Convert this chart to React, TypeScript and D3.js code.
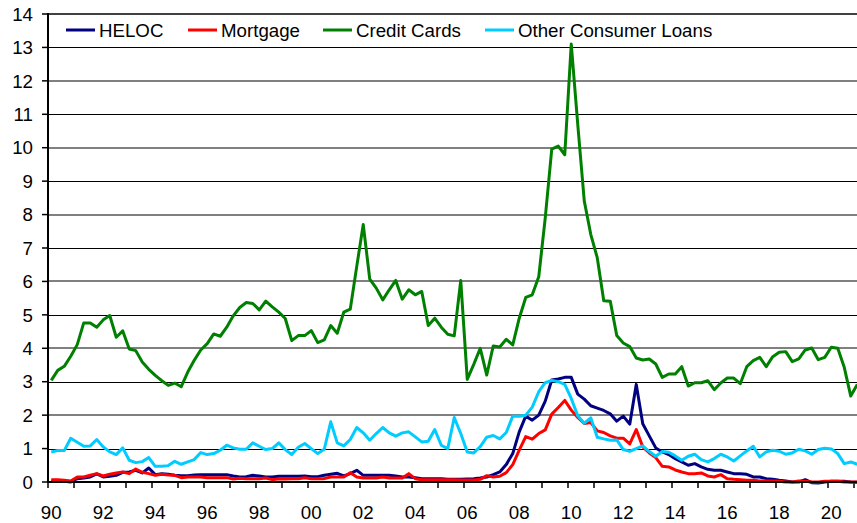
import React from 'react';
import * as d3 from 'd3';

// quarterly, 1990Q1 .. 2021Q1
const heloc = [
  0.02, 0.02, 0.02, 0.0, 0.1, 0.12, 0.15, 0.24, 0.15, 0.17,
  0.2, 0.29, 0.3, 0.35, 0.27, 0.42, 0.22, 0.25, 0.23, 0.2,
  0.19, 0.19, 0.21, 0.22, 0.22, 0.22, 0.22, 0.22, 0.18, 0.15,
  0.16, 0.2, 0.18, 0.15, 0.15, 0.17, 0.17, 0.17, 0.17, 0.18,
  0.16, 0.16, 0.2, 0.23, 0.26, 0.18, 0.25, 0.35, 0.2, 0.2,
  0.2, 0.2, 0.2, 0.18, 0.15, 0.15, 0.13, 0.1, 0.1, 0.1,
  0.1, 0.08, 0.08, 0.08, 0.09, 0.1, 0.12, 0.15, 0.22, 0.3,
  0.52, 0.85, 1.5, 1.97, 1.85, 2.0, 2.42, 3.05, 3.08, 3.13,
  3.13, 2.63, 2.48, 2.28, 2.21, 2.14, 2.04, 1.82, 1.97, 1.73,
  2.92, 1.74, 1.38, 1.02, 0.9, 0.82, 0.7, 0.6, 0.5, 0.55,
  0.45, 0.38, 0.35, 0.35, 0.3, 0.25, 0.25, 0.23, 0.15, 0.15,
  0.1, 0.08, 0.05, 0.03, 0.0, 0.0, 0.07, -0.02, -0.03, 0.0,
  0.02, 0.02, 0.02, 0.0, -0.01,
];

const mortgage = [
  0.07, 0.07, 0.05, 0.03, 0.15, 0.15, 0.2, 0.25, 0.18, 0.23,
  0.27, 0.3, 0.25, 0.39, 0.29, 0.25, 0.2, 0.23, 0.21, 0.2,
  0.13, 0.15, 0.15, 0.15, 0.13, 0.13, 0.13, 0.13, 0.09, 0.11,
  0.1, 0.1, 0.1, 0.12, 0.07, 0.1, 0.09, 0.1, 0.1, 0.13,
  0.1, 0.1, 0.1, 0.15, 0.15, 0.15, 0.28, 0.15, 0.12, 0.12,
  0.12, 0.15, 0.12, 0.12, 0.12, 0.25, 0.1, 0.07, 0.07, 0.07,
  0.07, 0.07, 0.07, 0.06, 0.06, 0.06, 0.08, 0.19, 0.15, 0.17,
  0.28, 0.52, 0.95, 1.36, 1.28, 1.45, 1.56, 2.03, 2.23, 2.44,
  2.15, 1.93, 1.75, 1.78, 1.53, 1.48, 1.38, 1.31, 1.31, 1.14,
  1.57, 1.05, 0.87, 0.73, 0.47, 0.45, 0.36, 0.3, 0.25, 0.25,
  0.27, 0.18, 0.15, 0.22, 0.1, 0.08, 0.07, 0.05, 0.05, 0.03,
  0.03, 0.03, 0.02, 0.0, 0.0, 0.03, 0.02, 0.0, 0.0, 0.02,
  0.02, 0.02, 0.0, 0.0, 0.0,
];

const creditCards = [
  3.04, 3.34, 3.46, 3.76, 4.11, 4.76, 4.76, 4.63, 4.85, 4.98,
  4.33, 4.52, 3.98, 3.93, 3.59, 3.37, 3.19, 3.03, 2.89, 2.96,
  2.85, 3.29, 3.64, 3.95, 4.14, 4.43, 4.36, 4.63, 4.97, 5.22,
  5.37, 5.34, 5.15, 5.41, 5.24, 5.08, 4.89, 4.23, 4.38, 4.38,
  4.53, 4.17, 4.25, 4.68, 4.45, 5.08, 5.17, 6.45, 7.7, 6.07,
  5.8, 5.45, 5.75, 6.03, 5.47, 5.75, 5.6, 5.7, 4.68, 4.9,
  4.63, 4.42, 4.37, 6.03, 3.07, 3.52, 4.0, 3.2, 4.07, 4.04,
  4.27, 4.1, 4.9, 5.52, 5.6, 6.14, 7.9, 9.96, 10.05, 9.79,
  13.1, 10.7, 8.41, 7.41, 6.71, 5.42, 5.41, 4.38, 4.16, 4.05,
  3.71, 3.65, 3.68, 3.53, 3.13, 3.23, 3.23, 3.45, 2.87, 2.97,
  2.97, 3.03, 2.76, 2.96, 3.11, 3.11, 2.94, 3.45, 3.63, 3.73,
  3.45, 3.75, 3.88, 3.9, 3.6, 3.68, 3.95, 4.01, 3.66, 3.73,
  4.03, 4.0, 3.43, 2.57, 2.92,
];

const otherConsumer = [
  0.9, 0.94, 0.94, 1.31, 1.19, 1.07, 1.08, 1.27, 1.05, 0.9,
  0.82, 1.02, 0.65, 0.58, 0.61, 0.73, 0.47, 0.47, 0.49, 0.62,
  0.53, 0.6, 0.67, 0.88, 0.82, 0.85, 0.95, 1.1, 1.02, 0.98,
  0.98, 1.17, 1.07, 0.97, 1.0, 1.17, 0.97, 0.82, 1.04, 1.15,
  1.0, 0.85, 0.98, 1.8, 1.17, 1.08, 1.27, 1.63, 1.47, 1.25,
  1.45, 1.63, 1.47, 1.37, 1.47, 1.5, 1.35, 1.2, 1.22, 1.57,
  1.1, 1.0, 1.93, 1.45, 0.9, 0.87, 1.06, 1.34, 1.39, 1.29,
  1.48, 1.97, 1.97, 2.0, 2.24, 2.7, 2.97, 3.04, 3.0, 2.92,
  2.5, 1.98, 1.76, 1.92, 1.34, 1.29, 1.25, 1.26, 0.97, 0.92,
  1.0, 1.08, 0.91, 0.77, 0.91, 0.89, 0.78, 0.65, 0.77, 0.83,
  0.67, 0.6, 0.7, 0.83, 0.75, 0.63, 0.78, 0.93, 1.07, 0.75,
  0.9, 0.95, 0.92, 0.83, 0.87, 0.98, 0.93, 0.83, 0.97, 1.01,
  0.99, 0.85, 0.55, 0.6, 0.53,
];

const seriesNames = ['HELOC', 'Mortgage', 'Credit Cards', 'Other Consumer Loans'];
const seriesColors = ['#000080', '#ff0000', '#008000', '#00ccff'];
const seriesData = [heloc, mortgage, creditCards, otherConsumer];

const yearLabels = ['90', '92', '94', '96', '98', '00', '02', '04', '06', '08', '10', '12', '14', '16', '18', '20'];
const yTicks = [0, 1, 2, 3, 4, 5, 6, 7, 8, 9, 10, 11, 12, 13, 14];

// legend item x positions (line start)
const legendX = [66, 188, 323, 485];

export default function App() {
  const W = 857, H = 523;
  const n = heloc.length;
  const x = d3.scaleBand<number>().domain(d3.range(n)).range([48, 48 + n * 6.5]).padding(0);
  const bw = x.bandwidth();
  const y = d3.scaleLinear().domain([0, 14]).range([482, 14]);
  const line = d3.line<number>()
    .x((_, i) => (x(i) as number) + bw / 2)
    .y(d => y(d));

  const font = '"Liberation Sans", Arial, sans-serif';
  const fs = 18.7;

  return (
    <svg width={W} height={H} style={{ position: 'absolute', left: 0, top: 0, background: '#fff' }}
      fontFamily={font}>
      {/* gridlines */}
      {yTicks.filter(t => t > 0 && t < 14).map(t => (
        t % 2 === 1
          ? <line key={t} x1={48} x2={W} y1={Math.round(y(t)) + 0.5} y2={Math.round(y(t)) + 0.5} stroke="#000" strokeWidth={1} />
          : <line key={t} x1={48} x2={W} y1={Math.round(y(t))} y2={Math.round(y(t))} stroke="#808080" strokeWidth={2} />
      ))}
      <line x1={48} x2={W} y1={y(14)} y2={y(14)} stroke="#404040" strokeWidth={2} />

      {/* y axis */}
      <line x1={48} x2={48} y1={y(14) - 1} y2={y(0) + 1} stroke="#000" strokeWidth={2} />
      {yTicks.map(t => (
        <g key={t}>
          <line x1={42} x2={48} y1={y(t)} y2={y(t)} stroke="#000" strokeWidth={1.5} />
          <text x={33} y={y(t)} dy="0.36em" textAnchor="end" fontSize={fs} fill="#000">{t}</text>
        </g>
      ))}

      {/* x axis */}
      {d3.range(0, n, 4).map(q => (
        <line key={q} x1={x(q) as number} x2={x(q) as number} y1={y(0)} y2={y(0) + 6} stroke="#000" strokeWidth={1.5} />
      ))}
      {yearLabels.map((lab, k) => (
        <text key={lab} x={(x(k * 8) as number) + bw / 2} y={519} textAnchor="middle" fontSize={fs} fill="#000">{lab}</text>
      ))}

      {/* series */}
      {seriesData.map((d, s) => (
        <path key={s} d={line(d) || ''} fill="none" stroke={seriesColors[s]} strokeWidth={3} strokeLinejoin="round" />
      ))}

      <line x1={48} x2={W} y1={y(0)} y2={y(0)} stroke="#000" strokeWidth={2} />

      {/* legend */}
      {seriesNames.map((name, s) => (
        <g key={name}>
          <line x1={legendX[s]} x2={legendX[s] + 29} y1={30} y2={30} stroke={seriesColors[s]} strokeWidth={3} />
          <text x={legendX[s] + 33} y={37} fontSize={fs} fill="#000">{name}</text>
        </g>
      ))}
    </svg>
  );
}
